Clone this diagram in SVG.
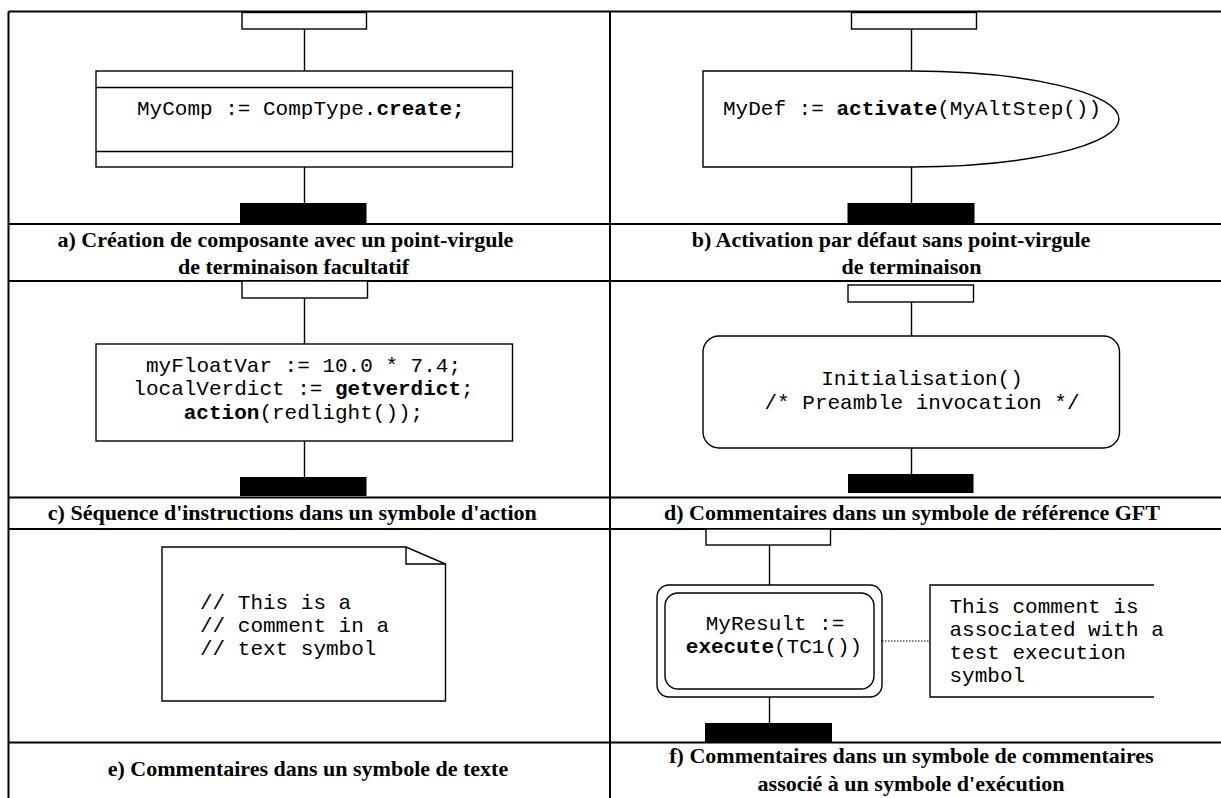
<svg xmlns="http://www.w3.org/2000/svg" width="1221" height="798" viewBox="0 0 1221 798">
<style>
.grid{stroke:#000;stroke-width:2;fill:none}
.sym{stroke:#000;stroke-width:1.4;fill:#fff}
.ln{stroke:#000;stroke-width:1.4;fill:none}
.bar{fill:#000;stroke:none}
.mono{font-family:'Liberation Mono','Courier New',monospace;font-size:21px;fill:#000}
.b{font-weight:bold}
.cap{font-family:'Liberation Serif','Times New Roman',serif;font-size:22px;font-weight:bold;fill:#000;text-anchor:middle}
</style>
<rect width="1221" height="798" fill="#fff"/>
<g id="grid">
<line class="grid" x1="8.5" y1="11.5" x2="1221" y2="11.5"/>
<line class="grid" x1="8.5" y1="11.5" x2="8.5" y2="798"/>
<line class="grid" x1="610" y1="11.5" x2="610" y2="798"/>
<line class="grid" x1="8.5" y1="224" x2="1221" y2="224"/>
<line class="grid" x1="8.5" y1="281" x2="1221" y2="281"/>
<line class="grid" x1="8.5" y1="497.5" x2="1221" y2="497.5"/>
<line class="grid" x1="8.5" y1="529" x2="1221" y2="529"/>
<line class="grid" x1="8.5" y1="742.5" x2="1221" y2="742.5"/>
</g>
<g id="connectors">
<line class="ln" x1="304.5" y1="29" x2="304.5" y2="71"/>
<line class="ln" x1="304.5" y1="167" x2="304.5" y2="203"/>
<line class="ln" x1="911.5" y1="29" x2="911.5" y2="71"/>
<line class="ln" x1="911.5" y1="167" x2="911.5" y2="203"/>
<line class="ln" x1="304.5" y1="298" x2="304.5" y2="344"/>
<line class="ln" x1="304.5" y1="441" x2="304.5" y2="477"/>
<line class="ln" x1="911.5" y1="302" x2="911.5" y2="336"/>
<line class="ln" x1="911.5" y1="448" x2="911.5" y2="474"/>
<line class="ln" x1="769.5" y1="545" x2="769.5" y2="585"/>
<line class="ln" x1="769.5" y1="697" x2="769.5" y2="723"/>
<line x1="882" y1="641" x2="930" y2="641" stroke="#000" stroke-width="1.2" stroke-dasharray="1.5,1.5"/>
</g>
<g id="panel-a">
<rect class="sym" x="242" y="12.5" width="124.5" height="16.5"/>
<rect class="sym" x="96" y="71" width="416.5" height="96"/>
<line class="ln" x1="96" y1="87.5" x2="512.5" y2="87.5"/>
<line class="ln" x1="96" y1="151.5" x2="512.5" y2="151.5"/>
<text class="mono" x="137" y="115">MyComp := CompType.<tspan class="b">create;</tspan></text>
<rect class="bar" x="240" y="203" width="126.5" height="20"/>
</g>
<g id="panel-b">
<rect class="sym" x="851.5" y="12.5" width="125" height="16.5"/>
<path class="sym" d="M703,71 H911 A208,48 0 0 1 911,167 H703 Z"/>
<text class="mono" x="723" y="115">MyDef := <tspan class="b">activate</tspan>(MyAltStep())</text>
<rect class="bar" x="847.5" y="203" width="127" height="20"/>
</g>
<g id="caption-a">
<text class="cap" x="285.4" y="247">a) Création de composante avec un point-virgule</text>
<text class="cap" x="293.5" y="274">de terminaison facultatif</text>
</g>
<g id="caption-b">
<text class="cap" x="891" y="247">b) Activation par défaut sans point-virgule</text>
<text class="cap" x="911.5" y="274">de terminaison</text>
</g>
<g id="panel-c">
<rect class="sym" x="242" y="281" width="125.5" height="17"/>
<rect class="sym" x="96" y="344" width="416.5" height="97"/>
<text class="mono" text-anchor="middle" x="303.5" y="372">myFloatVar := 10.0 * 7.4;</text>
<text class="mono" text-anchor="middle" x="303.5" y="395">localVerdict := <tspan class="b">getverdict</tspan>;</text>
<text class="mono" text-anchor="middle" x="303.5" y="418.5"><tspan class="b">action</tspan>(redlight());</text>
<rect class="bar" x="240" y="477" width="126.5" height="19"/>
</g>
<g id="panel-d">
<rect class="sym" x="848" y="285" width="125.5" height="17"/>
<rect class="sym" x="703" y="336" width="416.5" height="112" rx="16" ry="16"/>
<text class="mono" text-anchor="middle" x="922" y="385">Initialisation()</text>
<text class="mono" text-anchor="middle" x="922" y="408.5">/* Preamble invocation */</text>
<rect class="bar" x="848" y="474" width="125.5" height="19"/>
</g>
<g id="caption-c">
<text class="cap" x="292.3" y="520">c) Séquence d'instructions dans un symbole d'action</text>
</g>
<g id="caption-d">
<text class="cap" x="912" y="520">d) Commentaires dans un symbole de référence GFT</text>
</g>
<g id="panel-e">
<path class="sym" d="M162,547 H406 L445.5,564 V701 H162 Z"/>
<path class="ln" d="M406,547 V564 H445.5"/>
<text class="mono" x="200" y="609">// This is a</text>
<text class="mono" x="200" y="632">// comment in a</text>
<text class="mono" x="200" y="655">// text symbol</text>
</g>
<g id="panel-f">
<rect class="sym" x="706" y="529" width="124.5" height="16"/>
<rect class="sym" x="657" y="585" width="225" height="112" rx="12" ry="12"/>
<rect class="sym" x="665" y="593" width="209" height="96" rx="13" ry="13"/>
<text class="mono" text-anchor="middle" x="775" y="630">MyResult :=</text>
<text class="mono" text-anchor="middle" x="774" y="652.5"><tspan class="b">execute</tspan>(TC1())</text>
<rect class="bar" x="705" y="723" width="127" height="19"/>
</g>
<g id="comment-f">
<path class="ln" d="M1154,585 H930 V697 H1154"/>
<text class="mono" x="949.5" y="612.5">This comment is</text>
<text class="mono" x="949.5" y="635.5">associated with a</text>
<text class="mono" x="949.5" y="658.5">test execution</text>
<text class="mono" x="949.5" y="681.5">symbol</text>
</g>
<g id="caption-e">
<text class="cap" x="308" y="776">e) Commentaires dans un symbole de texte</text>
</g>
<g id="caption-f">
<text class="cap" x="911.5" y="763">f) Commentaires dans un symbole de commentaires</text>
<text class="cap" x="911" y="791">associé à un symbole d'exécution</text>
</g>
</svg>
